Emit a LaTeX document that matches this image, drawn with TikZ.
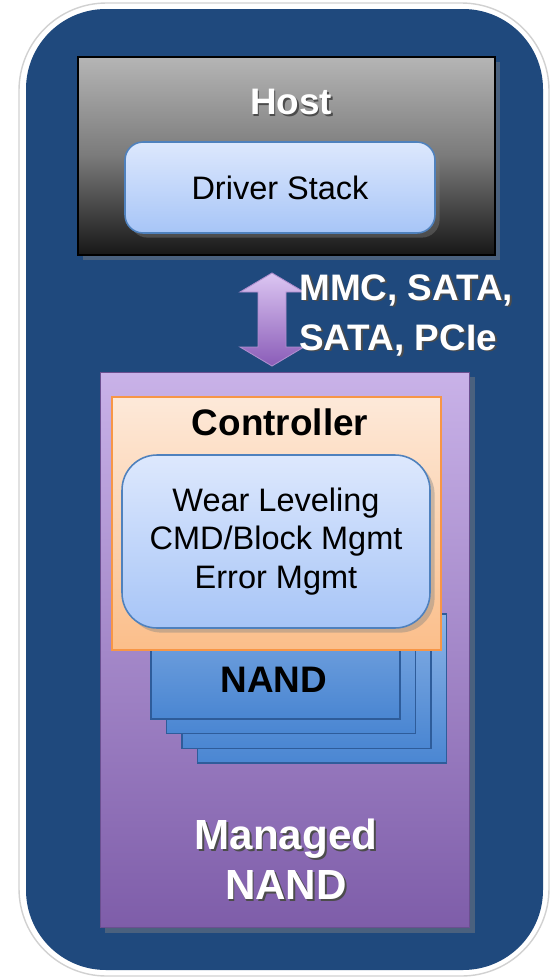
\documentclass[tikz,border=0pt]{standalone}
\usepackage{fontspec}
\setmainfont{Liberation Sans}
\usetikzlibrary{calc, shadows}

\definecolor{bluebg}{HTML}{1F497D}
\definecolor{cardtop}{HTML}{DDE8FD}
\definecolor{cardbot}{HTML}{A7C5F7}
\definecolor{cardedge}{HTML}{4F81BD}
\definecolor{ctrltop}{HTML}{FDE9D9}
\definecolor{ctrlbot}{HTML}{FBBE8A}
\definecolor{ctrledge}{HTML}{F79646}
\definecolor{mngtop}{HTML}{C9B2E8}
\definecolor{mngbot}{HTML}{7E5DA9}
\definecolor{nandtop}{HTML}{8DB4E6}
\definecolor{nandbot}{HTML}{4A86D2}
\definecolor{nandedge}{HTML}{2E5C9A}
\definecolor{linktop}{HTML}{DCC6F2}
\definecolor{linkbot}{HTML}{8A5CB8}

% white bold text with a dark copy slightly below right of it
\newcommand\raisedtext[1]{%
  \makebox[0pt][l]{\hspace{1pt}\raisebox{-1pt}{\color{black!70}#1}}#1}

\begin{document}
\begin{tikzpicture}[
    x=0.02cm, y=-0.02cm,
    hostbox/.style  = {draw=black, line width=1.2pt, inner sep=0pt,
                       top color=black!29, bottom color=black!91,
                       middle color=black!52,
                       drop shadow={opacity=0.45}},
    card/.style     = {draw=cardedge, line width=0.9pt, inner sep=0pt,
                       top color=cardtop, bottom color=cardbot,
                       drop shadow={opacity=0.4}},
    ctrlbox/.style  = {draw=ctrledge, line width=1.1pt, inner sep=0pt,
                       top color=ctrltop, bottom color=ctrlbot},
    mngbox/.style   = {draw=mngbot!85!black, line width=0.6pt, inner sep=0pt,
                       top color=mngtop, bottom color=mngbot,
                       drop shadow={opacity=0.45}},
    plate/.style    = {draw=nandedge, line width=0.8pt, inner sep=0pt,
                       minimum width=4.98cm, minimum height=2.98cm,
                       top color=nandtop, bottom color=nandbot},
    link/.style     = {draw=linkbot!70!white, line width=0.5pt,
                       top color=linktop, bottom color=linkbot},
    title/.style    = {text=white, inner sep=0pt,
                       font=\fontsize{21}{28.4}\selectfont\bfseries},
    heading/.style  = {text=black, inner sep=0pt,
                       font=\fontsize{21}{28.4}\selectfont\bfseries},
    plain/.style    = {text=black, inner sep=0pt, align=center,
                       font=\fontsize{18.5}{21.8}\selectfont},
  ]

  % --- page and rounded frame ------------------------------------------------
  \fill[white] (0,0) rectangle (557,978);
  \useasboundingbox (0,0) rectangle (557,978);
  \filldraw[white, draw=black!18, line width=0.8pt, rounded corners=1.75cm]
    (19,3) rectangle (549,976);
  \fill[bluebg, rounded corners=1.6cm] (26,9) rectangle (543,970);

  % --- host side -------------------------------------------------------------
  \node[hostbox, minimum width=8.34cm, minimum height=3.96cm]
    (host) at (286.5,156) {};
  \node[title] (host-title) at (291,103) {\raisedtext{Host}};
  \node[card, rounded corners=0.36cm, minimum width=6.2cm,
        minimum height=1.82cm, plain]
    (driver) at (280,187.5) {Driver Stack};

  % --- bus between host and device ------------------------------------------
  \coordinate (link) at (272,319);
  \path[link] ($(link)+(0,-46)$) -- ++(32,19) -- ++(-18,0) -- ++(0,55)
    -- ++(18,0) -- ++(-32,19) -- ++(-32,-19) -- ++(18,0) -- ++(0,-55)
    -- ++(-18,0) -- cycle;
  \node[title, anchor=west, align=left] (bus) at (299,316)
    {\raisedtext{MMC, SATA,}\\\raisedtext{SATA, PCIe}};

  % --- managed NAND device ---------------------------------------------------
  \node[mngbox, minimum width=7.4cm, minimum height=11.12cm]
    (mnand) at (285,650) {};

  % stack of NAND dies, back to front
  \foreach \i in {3,2,1,0} {
    \node[plate] (nand-\i) at ({275.5+15.5*\i}, {644.5+14.7*\i}) {};
  }
  \node[heading] (nand-title) at (274,680) {NAND};

  \node[ctrlbox, minimum width=6.58cm, minimum height=5.06cm]
    (ctrl) at (276.5,523.5) {};
  \node[heading] (ctrl-title) at (280,422) {Controller};
  \node[card, rounded corners=0.7cm, minimum width=6.16cm,
        minimum height=3.46cm, plain]
    (ftl) at (276,541.5) {Wear Leveling\\CMD/Block Mgmt\\Error Mgmt};

  \node[title, align=center, font=\fontsize{24}{28.4}\selectfont\bfseries]
    (mnand-title) at (286,860) {\raisedtext{Managed}\\\raisedtext{NAND}};

\end{tikzpicture}
\end{document}
